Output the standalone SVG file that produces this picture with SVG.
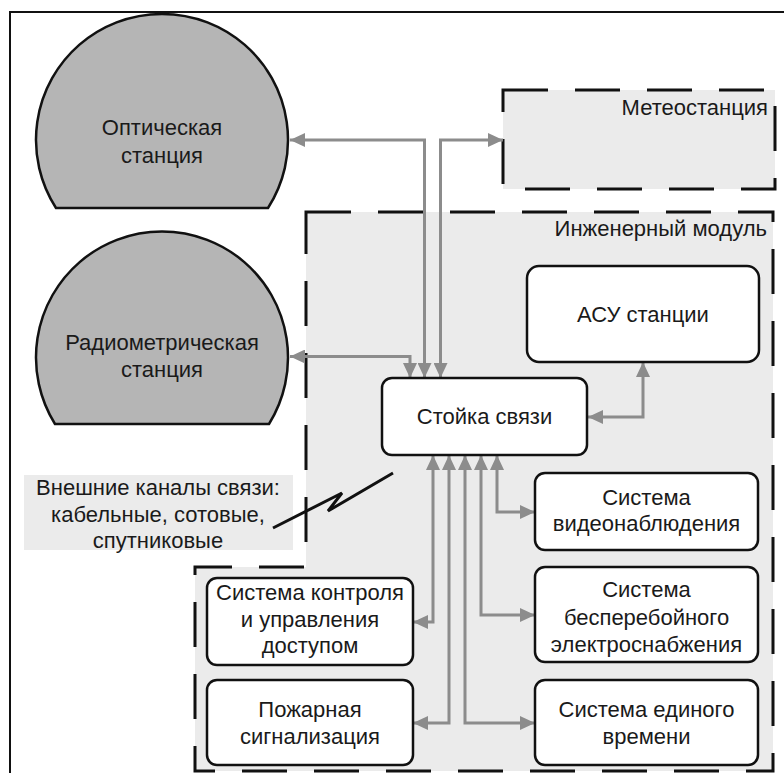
<svg xmlns="http://www.w3.org/2000/svg" width="784" height="773" viewBox="0 0 784 773">
<style>
text{font-family:"Liberation Sans",Arial,sans-serif;font-size:22px;fill:#1a1a1a;text-anchor:middle}
.r{text-anchor:end}
.dome{fill:#b5b5b5;stroke:#111;stroke-width:2.5}
.box{fill:#fff;stroke:#111;stroke-width:2.5}
.grp{fill:#ebebeb;stroke:#111;stroke-width:3;stroke-dasharray:45 27}
.c{fill:none;stroke:#8c8c8c;stroke-width:3;marker-start:url(#ah);marker-end:url(#ah)}
</style>
<defs>
<marker id="ah" markerUnits="userSpaceOnUse" markerWidth="16" markerHeight="14" refX="15" refY="7" orient="auto-start-reverse">
<path d="M0,0 L15,7 L0,14 Z" fill="#8c8c8c"/>
</marker>
</defs>
<rect width="784" height="773" fill="#fff"/>
<path d="M10 773 V12 H784" fill="none" stroke="#111" stroke-width="2"/>

<g id="module">
<path class="grp" d="M306 212 H773 V771 H195 V567 H306 Z"/>
<text class="r" x="767" y="236">Инженерный модуль</text>
</g>

<g id="meteo">
<rect class="grp" x="503" y="90" width="272" height="99"/>
<text class="r" x="768" y="115">Метеостанция</text>
</g>

<g id="optical">
<path class="dome" d="M56 208 A126 126 0 1 1 268 208 Z"/>
<text x="162" y="135">Оптическая</text>
<text x="162" y="163">станция</text>
</g>

<g id="radiometric">
<path class="dome" d="M55 424 A126 126 0 1 1 269 424 Z"/>
<text x="162" y="350">Радиометрическая</text>
<text x="162" y="377">станция</text>
</g>

<g id="external">
<rect x="24" y="475" width="269" height="75" fill="#ebebeb"/>
<text x="158" y="495">Внешние каналы связи:</text>
<text x="158" y="522">кабельные, сотовые,</text>
<text x="158" y="548">спутниковые</text>
</g>

<g id="connectors">
<path class="c" d="M290 140 H424.5 V378"/>
<path class="c" d="M440.5 378 V140 H503"/>
<path class="c" d="M290 356.5 H410 V378"/>
<path class="c" d="M588 417 H643 V362"/>
<path class="c" d="M433 455 V622 H413"/>
<path class="c" d="M449 455 V723 H413"/>
<path class="c" d="M465 455 V723 H535"/>
<path class="c" d="M481 455 V615 H535"/>
<path class="c" d="M497 455 V512 H535"/>
</g>

<g id="lightning">
<polyline points="273,528 342,493 328,511 393,473" fill="none" stroke="#111" stroke-width="3" stroke-linejoin="miter"/>
</g>

<g id="stoyka">
<rect class="box" x="382" y="378" width="205" height="77" rx="10"/>
<text x="484.5" y="424">Стойка связи</text>
</g>

<g id="asu">
<rect class="box" x="527" y="266" width="232" height="96" rx="12"/>
<text x="643" y="322">АСУ станции</text>
</g>

<g id="video">
<rect class="box" x="535" y="473" width="223" height="77" rx="10"/>
<text x="646.5" y="505">Система</text>
<text x="646.5" y="531">видеонаблюдения</text>
</g>

<g id="ups">
<rect class="box" x="535" y="567" width="223" height="95" rx="10"/>
<text x="646.5" y="597">Система</text>
<text x="646.5" y="625">бесперебойного</text>
<text x="646.5" y="652">электроснабжения</text>
</g>

<g id="time">
<rect class="box" x="535" y="680" width="223" height="85" rx="10"/>
<text x="646.5" y="717">Система единого</text>
<text x="646.5" y="744">времени</text>
</g>

<g id="access">
<rect class="box" x="207" y="578" width="206" height="87" rx="10"/>
<text x="310" y="600">Система контроля</text>
<text x="310" y="627">и управления</text>
<text x="310" y="653">доступом</text>
</g>

<g id="fire">
<rect class="box" x="207" y="680" width="206" height="85" rx="10"/>
<text x="310" y="717">Пожарная</text>
<text x="310" y="744">сигнализация</text>
</g>
</svg>
